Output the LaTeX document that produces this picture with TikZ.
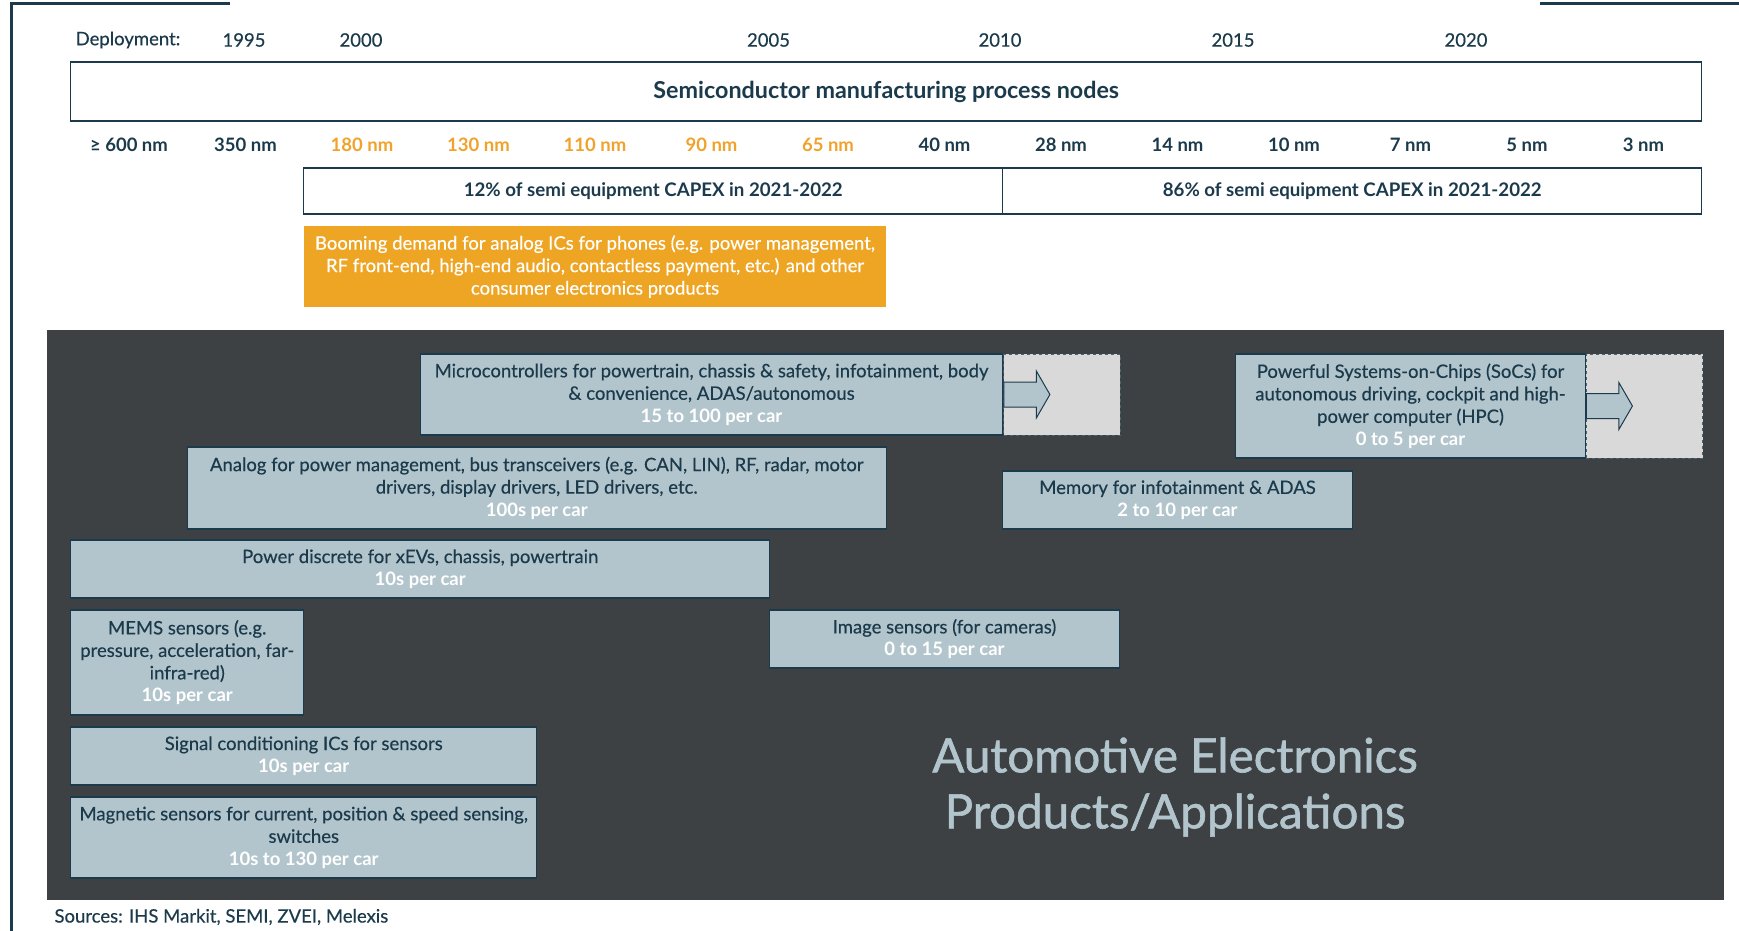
\documentclass[tikz,border=0pt]{standalone}
\usepackage{fontspec}
\setmainfont{Lato}[UprightFeatures={FakeBold=0.4}]
\newfontfamily\titlefont{Lato}[FakeBold=1.2]
\usetikzlibrary{shapes.arrows}

\definecolor{navy}{HTML}{1B3A4B}
\definecolor{boxfill}{HTML}{B3C5CC}
\definecolor{darkbg}{HTML}{3D4143}
\definecolor{boomorange}{HTML}{EEA524}
\definecolor{nmorange}{HTML}{F0A22B}
\definecolor{extfill}{HTML}{D9D9D9}
\definecolor{extline}{HTML}{4A6572}

\newcommand{\boxfont}{\fontsize{18.5}{22.5}\selectfont}
\newcommand{\percar}[1]{{\bfseries\color{white}#1}}

\begin{document}
\begin{tikzpicture}[
    x=1pt, y=-1pt,
    every node/.style={text=navy},
    plain/.style={font=\fontsize{18.5}{20}\selectfont},
    nmlabel/.style={font=\bfseries\fontsize{18.5}{20}\selectfont},
    framebox/.style={
        draw=navy,
        line width=1.3pt,
        fill=white,
        inner sep=0pt,
      },
    appbox/.style={
        draw=navy,
        line width=1.3pt,
        fill=boxfill,
        align=center,
        inner sep=0pt,
        font=\boxfont,
      },
    extbox/.style={
        draw=extline,
        dashed,
        line width=1pt,
        fill=extfill,
        inner sep=0pt,
        anchor=west,
        minimum width=116.5,
      },
    blockarrow/.style={
        single arrow,
        draw=navy,
        line width=1pt,
        fill=boxfill,
        inner sep=0pt,
        text height=24pt,
        text depth=0pt,
        minimum height=46,
        single arrow head extend=11,
        single arrow tip angle=120,
        anchor=tail,
      },
    rule/.style={navy, line width=3pt}
  ]
  \useasboundingbox (0,0) rectangle (1739,931);

  % frame corners
  \draw[rule] (230,4) -- (11,4) -- (11,931);
  \draw[rule] (1540,4) -- (1739,4);

  % deployment years
  \node[plain] (deploy) at (128,40) {Deployment:};
  \foreach \Year/\Pos in {1995/244, 2000/361, 2005/768.5, 2010/1000, 2015/1233, 2020/1466}
  \node[plain] (y\Year) at (\Pos,40) {\Year};

  % process nodes
  \node[framebox, minimum width=1631, minimum height=59,
    font=\bfseries\fontsize{23.3}{25}\selectfont] (nodes) at (886.25,91.5)
    {Semiconductor manufacturing process nodes};
  \foreach \Label/\Colour [count=\i from 0] in {{≥ 600 nm}/navy, {350 nm}/navy,
      {180 nm}/nmorange, {130 nm}/nmorange, {110 nm}/nmorange, {90 nm}/nmorange,
      {65 nm}/nmorange, {40 nm}/navy, {28 nm}/navy, {14 nm}/navy, {10 nm}/navy,
      {7 nm}/navy, {5 nm}/navy, {3 nm}/navy}
  \node[nmlabel, text=\Colour] (n\i) at ({129+116.5*\i},145) {\Label};

  \node[framebox, minimum width=699, minimum height=46,
    font=\bfseries\fontsize{18.7}{20}\selectfont] (capexa) at (653.25,191)
    {12\% of semi equipment CAPEX in 2021-2022};
  \node[framebox, minimum width=699, minimum height=46,
    font=\bfseries\fontsize{18.7}{20}\selectfont] (capexb) at (1352.25,191)
    {86\% of semi equipment CAPEX in 2021-2022};

  \node[fill=boomorange, text=white, align=center, inner sep=0pt,
    minimum width=582.5, minimum height=81, font=\boxfont] (booming) at (595,266.5)
    {Booming demand for analog ICs for phones (e.g. power management,\\
      RF front-end, high-end audio, contactless payment, etc.) and other\\
      consumer electronics products};

  % automotive panel
  \node[fill=darkbg, inner sep=0pt, minimum width=1677, minimum height=570] (panel) at (885.5,615) {};

  \node[appbox, minimum width=582.5, minimum height=81] (mcu) at (711.5,394.5)
    {Microcontrollers for powertrain, chassis \& safety, infotainment, body\\
      \& convenience, ADAS/autonomous\\ \percar{15 to 100 per car}};
  \node[extbox, minimum height=81] (mcuext) at (mcu.east) {};
  \node[blockarrow] (mcuarrow) at (mcu.east) {};

  \node[appbox, minimum width=349.5, minimum height=104] (soc) at (1410.5,406)
    {Powerful Systems-on-Chips (SoCs) for\\ autonomous driving, cockpit and high-\\
      power computer (HPC)\\ \percar{0 to 5 per car}};
  \node[extbox, minimum height=104] (socext) at (soc.east) {};
  \node[blockarrow] (socarrow) at (soc.east) {};

  \node[appbox, minimum width=699, minimum height=82] (analog) at (536.75,488)
    {Analog for power management, bus transceivers (e.g. CAN, LIN), RF, radar, motor\\
      drivers, display drivers, LED drivers, etc.\\ \percar{100s per car}};
  \node[appbox, minimum width=349.5, minimum height=58] (memory) at (1177.5,500)
    {Memory for infotainment \& ADAS\\ \percar{2 to 10 per car}};
  \node[appbox, minimum width=699, minimum height=58] (power) at (420.25,569)
    {Power discrete for xEVs, chassis, powertrain\\ \percar{10s per car}};
  \node[appbox, minimum width=233, minimum height=105] (mems) at (187.25,662.5)
    {MEMS sensors (e.g.\\ pressure, acceleration, far-\\ infra-red)\\ \percar{10s per car}};
  \node[appbox, minimum width=349.5, minimum height=58] (image) at (944.5,639)
    {Image sensors (for cameras)\\ \percar{0 to 15 per car}};
  \node[appbox, minimum width=466, minimum height=58] (signal) at (303.75,756)
    {Signal conditioning ICs for sensors\\ \percar{10s per car}};
  \node[appbox, minimum width=466, minimum height=81] (magnetic) at (303.75,837.5)
    {Magnetic sensors for current, position \& speed sensing,\\ switches\\
      \percar{10s to 130 per car}};

  \node[text=boxfill, align=center, font=\titlefont\fontsize{47.5}{56}\selectfont] (apptitle) at (1175,787)
    {Automotive Electronics\\ Products/Applications};

  \node[plain, anchor=west] (sources) at (51,917) {Sources: IHS Markit, SEMI, ZVEI, Melexis};
\end{tikzpicture}
\end{document}
